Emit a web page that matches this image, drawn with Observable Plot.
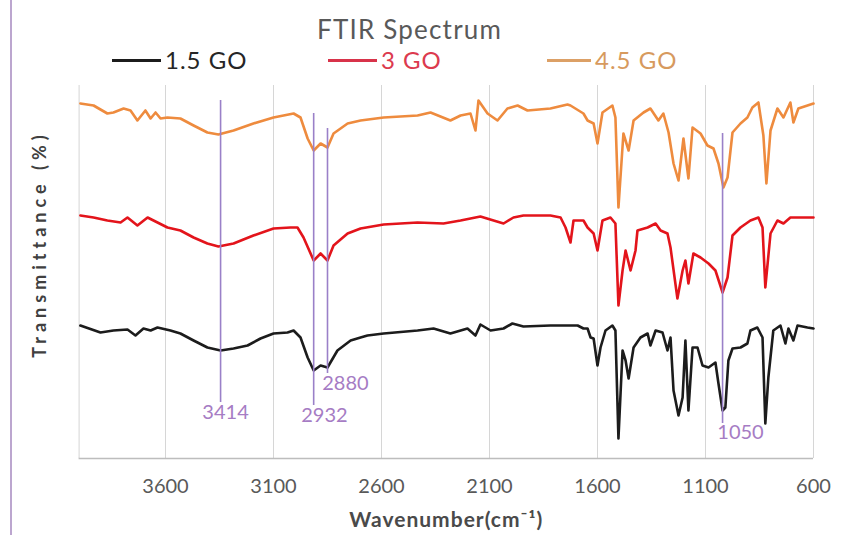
<!DOCTYPE html>
<html><head><meta charset="utf-8">
<script src="https://cdn.jsdelivr.net/npm/d3@7"></script>
<script src="https://cdn.jsdelivr.net/npm/@observablehq/plot@0.6"></script>
<style>
body{margin:0;background:#fff;}
#wrap{position:relative;width:843px;height:535px;overflow:hidden;font-family:Lato,sans-serif;}
#edge{position:absolute;left:10px;top:0;width:2px;height:535px;background:#bca6cf;}
#head{position:relative;height:75px;}
#title{position:absolute;left:317px;top:16px;font-size:26px;line-height:26px;letter-spacing:1.2px;color:#595959;white-space:nowrap;}
.leg{position:absolute;top:47px;height:26px;display:flex;align-items:center;font-size:24px;line-height:26px;letter-spacing:1px;white-space:nowrap;}
.sw{display:inline-block;height:3px;margin-right:4px;}
</style></head>
<body>
<div id="wrap">
  <div id="edge"></div>
  <div id="head">
    <div id="title">FTIR Spectrum</div>
    <div id="legend"></div>
  </div>
  <div id="chart"></div>
</div>
<script>
// Series names and colours
const seriesNames = ["1.5 GO", "3 GO", "4.5 GO"];
const seriesColors = ["#1c1c1c", "#e3141b", "#ee8b3e"];
const legendTextColors = ["#262626", "#dc3a4e", "#d79a5e"];

// x-axis ticks (wavenumber, cm-1)
const xTicks = [3600, 3100, 2600, 2100, 1600, 1100, 600];

// [wavenumber, transmittance offset]
const go15 = [[3994,26.6],[3901,25.2],[3841,25.6],[3776,25.8],[3739,24.6],[3702,26],[3669,25.6],[3637,26.2],[3577,25.6],[3531,25],[3470,23.6],[3406,22.2],[3345,21.6],[3285,22],[3220,22.6],[3160,24],[3100,25],[3035,25.2],[3007,25.6],[2975,24.2],[2942,20.2],[2914,17.6],[2882,18.6],[2850,18.2],[2804,21.6],[2743,23.6],[2697,24.2],[2665,24.6],[2590,25],[2433,25.6],[2359,26],[2281,25],[2202,26],[2165,24.6],[2142,26.8],[2095,25.6],[2035,26],[1994,27],[1943,26.4],[1818,26.6],[1692,26.6],[1665,26],[1646,26],[1632,24.2],[1618,24],[1600,18.6],[1586,22.2],[1563,25.6],[1531,26.6],[1517,25.6],[1503,4],[1484,21.6],[1470,19.6],[1456,16],[1433,22.2],[1401,24.2],[1368,25],[1355,22.6],[1331,25.6],[1299,25.2],[1276,21.6],[1262,24.2],[1248,13.6],[1225,8.6],[1206,12.2],[1193,23.6],[1179,9.6],[1160,22.2],[1137,22.2],[1114,18.6],[1086,18.2],[1054,19.2],[1040,15],[1021,9.6],[1008,10.2],[994,19.6],[975,22],[938,22.2],[906,23],[892,25.6],[860,26.2],[836,24.2],[823,7],[809,16.2],[786,25.6],[753,26.6],[730,23],[716,26],[693,23.6],[674,26.6],[628,26.2],[600,26]];

const go3 = [[3994,48.6],[3933,48.2],[3869,47.6],[3808,47.2],[3776,48.2],[3730,46.6],[3683,48.2],[3637,47.2],[3591,46.2],[3531,45.6],[3470,44.2],[3406,43],[3355,42.4],[3285,43],[3193,44.6],[3100,46],[3021,46.2],[2989,46.2],[2961,44.2],[2914,39.6],[2882,41],[2850,39.6],[2822,42.6],[2757,45],[2697,46],[2590,46.8],[2433,47.2],[2313,47],[2234,47.6],[2142,48.4],[2081,47.6],[2035,47],[1989,48.2],[1943,48.6],[1818,48.6],[1771,48.2],[1748,46.2],[1725,43.2],[1711,47.6],[1692,47.6],[1665,47.6],[1646,46.2],[1618,45],[1600,41.6],[1577,47.6],[1540,48.2],[1517,47],[1503,30.6],[1484,37.6],[1470,41.6],[1447,37.6],[1424,41.6],[1415,45.6],[1368,46.2],[1331,47],[1308,45.6],[1276,45],[1262,42.2],[1230,32],[1206,37.6],[1193,39.6],[1179,35],[1156,41],[1123,40.2],[1086,39],[1054,37.6],[1021,33.2],[998,36.2],[975,44.6],[938,46.2],[892,47.6],[855,48.2],[836,46.2],[823,34.2],[799,45],[767,47.6],[739,47],[707,48.2],[674,48.2],[600,48.2]];

const go45 = [[3994,71],[3933,70.6],[3869,69],[3841,69.2],[3794,70],[3762,69.6],[3730,67.6],[3693,69.6],[3669,68],[3646,69.2],[3623,68],[3591,68.2],[3531,68],[3470,66.6],[3406,65.2],[3355,64.8],[3285,65.6],[3193,67],[3100,68.2],[3007,69],[2975,68.2],[2942,64],[2914,61.6],[2882,63],[2850,62.2],[2822,65],[2757,67],[2697,67.6],[2590,68.2],[2433,68.6],[2373,69.2],[2281,67.6],[2234,68.6],[2188,69],[2165,65.6],[2151,71.6],[2109,69],[2063,67.6],[2017,70],[1970,70.6],[1924,69.6],[1818,70],[1739,70.8],[1725,70.6],[1665,69],[1646,67.6],[1618,67],[1600,63],[1577,69.2],[1531,70.6],[1517,68.2],[1503,50.2],[1480,65],[1456,61.6],[1433,67.6],[1387,69.2],[1355,70],[1318,67.6],[1295,69],[1271,65.2],[1248,59],[1225,55.6],[1202,64],[1179,56],[1160,66.2],[1123,65],[1091,62.6],[1063,62],[1040,59],[1017,54.2],[998,56.2],[975,65.2],[938,67],[906,68.2],[883,70.2],[855,71.2],[832,64.6],[818,55],[799,65.6],[767,70],[739,68.2],[707,71.2],[693,67.2],[670,70],[628,70.6],[600,71]];

// Peak annotations
const annoLabels = ["3414", "2932", "2880", "1050"];
const annoAt = [3345, 2914, 2850, 1021];
const annoTop = [71.6, 69, 66, 65];
const annoBottom = [11.2, 10.6, 17, 7];
const annoLabelAt = [3322, 2864, 2767, 938];
const annoLabelT = [9.2, 8.6, 15, 5.2];

const seriesData = [go15, go3, go45];
const rows = [];
seriesData.forEach((arr, i) => arr.forEach(([w, t]) => rows.push({series: seriesNames[i], w, t})));
const anno = annoLabels.map((label, i) => ({label, at: annoAt[i], top: annoTop[i], bottom: annoBottom[i], lx: annoLabelAt[i], ly: annoLabelT[i]}));

// Legend (HTML)
const legendPos = [{line: 112, lw: 49}, {line: 328, lw: 49}, {line: 547, lw: 44}];
const legend = document.getElementById("legend");
seriesNames.forEach((n, i) => {
  const d = document.createElement("div");
  d.className = "leg";
  d.style.left = legendPos[i].line + "px";
  d.style.color = legendTextColors[i];
  const sw = document.createElement("span");
  sw.className = "sw";
  sw.style.width = legendPos[i].lw + "px";
  sw.style.background = i === 0 ? seriesColors[0] : (i === 1 ? "#d8334a" : "#dca066");
  d.appendChild(sw);
  d.appendChild(document.createTextNode(n));
  legend.appendChild(d);
});

const plot = Plot.plot({
  width: 843,
  height: 460,
  marginTop: 10,
  marginBottom: 77,
  marginLeft: 78.6,
  marginRight: 30,
  style: {fontFamily: "Lato, sans-serif", fontSize: "20px", color: "#595959", background: "transparent", overflow: "visible"},
  x: {domain: [4000, 600], ticks: xTicks, tickSize: 0, tickPadding: 20, tickFormat: "d", label: null},
  y: {domain: [0, 74.6], axis: null},
  color: {domain: seriesNames, range: seriesColors},
  marks: [
    Plot.ruleX([4000, ...xTicks], {stroke: "#d6d6d6", strokeWidth: 1}),
    Plot.ruleY([0], {stroke: "#bdbdbd", strokeWidth: 1.5}),
    Plot.line(rows.filter(d => d.series === "4.5 GO"), {x: "w", y: "t", stroke: "series", strokeWidth: 2.6, strokeLinejoin: "round"}),
    Plot.line(rows.filter(d => d.series === "3 GO"), {x: "w", y: "t", stroke: "series", strokeWidth: 2.6, strokeLinejoin: "round"}),
    Plot.line(rows.filter(d => d.series === "1.5 GO"), {x: "w", y: "t", stroke: "series", strokeWidth: 2.6, strokeLinejoin: "round"}),
    Plot.ruleX(anno, {x: "at", y1: "top", y2: "bottom", stroke: "#9a80c8", strokeWidth: 1.6}),
    Plot.text(anno, {x: "lx", y: "ly", text: "label", fill: "#a67cc4", fontSize: 20}),
    Plot.text(["Wavenumber(cm⁻¹)"], {text: d => d, frameAnchor: "bottom", dy: 62, textAnchor: "middle", lineAnchor: "middle", fontSize: 21, fontWeight: "bold", fill: "#4a4a4a"}),
    Plot.text(["Transmittance (%)"], {text: d => d, frameAnchor: "left", dx: -38.6, dy: -28, textAnchor: "middle", lineAnchor: "middle", rotate: -90, fontSize: 18, fontWeight: "bold", fill: "#404040"})
  ]
});
d3.select(plot).selectAll("text").filter(function() { return this.textContent === "Transmittance (%)"; }).attr("letter-spacing", "5px");
d3.select(plot).selectAll("text").filter(function() { return this.textContent === "Wavenumber(cm⁻¹)"; }).attr("letter-spacing", "1px");
document.getElementById("chart").appendChild(plot);
</script>
</body></html>
